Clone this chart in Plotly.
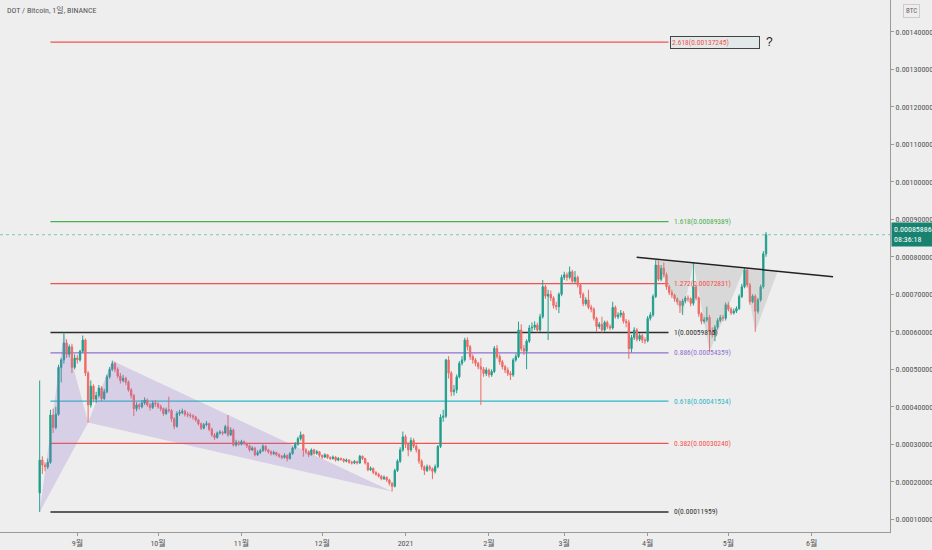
import pandas as pd
import plotly.graph_objects as go

UNIT = 1e-6  # prices below are in millionths of a BTC
START_DATE = "2020-08-18"
FIRST_OPEN = 170

CLOSES = [
    258,245,240,252,378,345,380,505,525,570,
    540,560,505,530,525,548,578,490,405,455,
    420,430,450,422,440,480,500,515,500,482,
    470,476,466,445,430,395,405,400,410,418,
    405,398,410,408,400,395,382,392,390,368,
    348,382,385,388,380,378,376,373,365,355,
    343,352,355,340,325,318,330,332,330,347,
    325,338,298,305,300,307,302,296,285,290,
    272,278,283,295,285,280,275,278,272,268,
    265,270,262,275,290,300,315,325,285,280,
    272,285,276,280,270,266,272,265,262,266,
    258,262,260,255,258,252,250,254,250,268,
    262,250,232,236,225,220,215,208,212,205,
    196,188,230,255,285,320,300,285,310,295,
    285,255,240,230,240,235,228,240,294,372,
    375,525,490,440,445,480,516,525,578,560,
    534,525,516,507,500,489,498,485,494,556,
    534,520,507,498,489,485,525,534,605,555,
    548,575,610,612,618,605,640,720,695,700,
    690,670,667,700,745,752,745,760,735,745,
    725,700,675,685,665,660,636,614,620,605,
    625,614,610,665,640,645,650,628,625,555,
    585,605,580,590,578,576,636,645,694,778,
    740,770,752,720,705,698,688,680,670,682,
    690,688,676,720,690,648,628,632,638,600,
    592,612,630,638,636,672,660,650,655,662,
    694,720,765,725,680,695,655,685,720,808,
    858.86,
]
HIGHS = [
    470,268,252,262,392,395,400,512,530,598.15,
    580,566,568,540,538,552,590,582,495,470,
    460,440,458,455,448,486,506,523,520,505,
    490,485,480,470,450,434,412,410,418,425,
    422,410,416,418,412,406,398,398,427,394,
    372,388,392,395,392,386,384,380,376,368,
    358,357,362,358,344,330,334,338,336,352,
    378,345,342,312,310,312,310,305,299,295,
    293,284,288,300,298,288,284,283,280,276,
    272,276,273,279,294,306,320,334,328,290,
    284,289,288,285,282,273,276,274,268,270,
    268,266,265,263,262,260,256,258,256,272,
    270,264,252,241,238,228,224,218,217,214,
    208,199,235,260,292,334,326,305,318,316,
    300,288,260,244,246,245,238,246,298,380,
    392,528,535,495,458,486,522,535,584,585,
    565,540,530,520,530,506,505,502,500,562,
    565,540,525,512,505,495,530,542,627,620,
    565,580,618,625,628,624,648,738,725,712,
    710,695,680,705,752,760,758,774,765,762,
    750,730,705,692,712,672,665,640,626,640,
    630,630,620,680,670,652,658,655,634,632,
    592,612,610,596,594,585,642,652,700,791,
    790,778,785,758,725,712,702,692,684,688,
    695,697,692,784,725,694,652,640,667,645,
    612,618,636,645,645,678,680,666,662,668,
    700,728,770,768,730,700,700,690,726,815,
    866,
]
LOWS = [
    119.59,221,228,234,248,330,340,376,465,515,
    530,532,490,500,515,520,544,482,358,398,
    412,410,425,415,418,436,475,495,492,476,
    462,465,458,440,422,375,388,392,396,405,
    400,390,394,400,395,388,376,378,384,360,
    340,344,376,380,374,372,370,366,360,350,
    338,340,348,335,320,312,315,326,324,328,
    320,322,294,294,296,297,298,290,280,282,
    268,269,274,280,280,275,270,271,268,264,
    260,262,254,259,272,286,296,310,267,274,
    266,270,272,272,265,261,263,261,258,259,
    254,255,256,251,252,248,246,247,246,248,
    258,246,228,229,220,216,211,204,205,200,
    190,174,185,226,250,280,290,268,280,290,
    278,248,232,218,226,229,207,222,236,290,
    360,370,475,428,430,436,476,510,520,550,
    525,515,508,500,405,480,482,478,480,490,
    528,512,500,490,482,471,480,520,530,548,
    538,500,570,600,605,598,600,635,688,578,
    682,662,658,650,695,738,736,740,728,730,
    718,690,668,670,660,652,630,600,608,598,
    600,608,604,606,635,634,638,622,612,528,
    545,578,574,575,570,568,572,630,640,690,
    735,735,745,712,698,690,680,672,650,645,
    676,680,668,670,684,640,620,622,626,547,
    585,575,606,625,628,630,654,645,646,650,
    658,690,716,718,672,676,600,648,680,715,
    800,
]

# Fibonacci levels
FIB_RATIOS = ["0", "0.382", "0.618", "0.886", "1", "1.272", "1.618", "2.618"]
FIB_PRICES = [0.00011959, 0.00030240, 0.00041534, 0.00054359, 0.00059815,
              0.00072831, 0.00089389, 0.00137245]
FIB_COLORS = ["#2e2e2e", "#f4524e", "#2bb7c8", "#9170d0", "#2e2e2e",
              "#f4524e", "#4caf50", "#f4524e"]
FIB_START = "2020-08-22"
FIB_END = "2021-04-08 18:00"

# harmonic XABCD pattern
XABCD_DATES = ["2020-08-18", "2020-08-27", "2020-09-05", "2020-09-14", "2020-12-27"]
XABCD_PRICES = [119.59, 598.15, 358, 523, 174]

# inverse head & shoulders zigzag
HS_DATES = ["2021-04-04", "2021-04-14", "2021-04-18", "2021-04-24",
            "2021-05-07", "2021-05-11", "2021-05-19 05:00"]
HS_PRICES = [791, 645, 784, 547, 770, 600, 759]

# neckline
NECK_DATES = ["2021-03-27 22:00", "2021-06-08 22:00"]
NECK_PRICES = [798.7, 747]

MONTH_TICKS = ["2020-09-01", "2020-10-01", "2020-11-01", "2020-12-01", "2021-01-01",
               "2021-02-01", "2021-03-01", "2021-04-01", "2021-05-01", "2021-06-01"]
MONTH_LABELS = ["9월", "10월", "11월", "12월", "2021", "2월", "3월", "4월", "5월", "6월"]
PRICE_TICKS = [0.0001 * k for k in range(1, 15)]

TITLE = "DOT / Bitcoin, 1일, BINANCE"
TIMER = "08:36:18"

FONT = "Liberation Sans Narrow, Roboto Condensed, DejaVu Sans Condensed, Liberation Sans, Noto Sans CJK KR"
BG = "#eeeeee"

dates = pd.date_range(START_DATE, periods=len(CLOSES), freq="D")
opens = [FIRST_OPEN] + CLOSES[:-1]
o = [v * UNIT for v in opens]
h = [v * UNIT for v in HIGHS]
l = [v * UNIT for v in LOWS]
c = [v * UNIT for v in CLOSES]

fig = go.Figure()

# XAB triangle and BCD triangle
xd, xp = XABCD_DATES, [v * UNIT for v in XABCD_PRICES]
fig.add_trace(go.Scatter(x=[xd[0], xd[1], xd[2], xd[0]], y=[xp[0], xp[1], xp[2], xp[0]],
                         fill="toself", fillcolor="rgba(149,117,205,0.25)",
                         line=dict(width=0), mode="lines", hoverinfo="skip"))
fig.add_trace(go.Scatter(x=[xd[2], xd[3], xd[4], xd[2]], y=[xp[2], xp[3], xp[4], xp[2]],
                         fill="toself", fillcolor="rgba(149,117,205,0.25)",
                         line=dict(width=0), mode="lines", hoverinfo="skip"))
# head & shoulders shading
hp = [v * UNIT for v in HS_PRICES]
fig.add_trace(go.Scatter(x=HS_DATES + [HS_DATES[0]], y=hp + [hp[0]],
                         fill="toself", fillcolor="rgba(160,160,160,0.28)",
                         line=dict(width=0), mode="lines", hoverinfo="skip"))

fig.add_trace(go.Candlestick(
    x=dates, open=o, high=h, low=l, close=c,
    increasing=dict(line=dict(color="#22a08f", width=1), fillcolor="#1f9484"),
    decreasing=dict(line=dict(color="#ef6a66", width=1), fillcolor="#ef6a66"),
    whiskerwidth=0, hoverinfo="skip",
))

# neckline
fig.add_trace(go.Scatter(x=NECK_DATES, y=[v * UNIT for v in NECK_PRICES], mode="lines",
                         line=dict(color="#222222", width=1.5), hoverinfo="skip"))

shapes = []
annotations = []
for ratio, price, col in zip(FIB_RATIOS, FIB_PRICES, FIB_COLORS):
    wide = ratio in ("0", "1")
    shapes.append(dict(type="line", xref="x", yref="y", x0=FIB_START, x1=FIB_END,
                       y0=price, y1=price, layer="below",
                       line=dict(color=col, width=1.5 if wide else 1.2)))
    txt = f"{ratio}({price:.8f})"
    if ratio == "2.618":
        annotations.append(dict(x=FIB_END, y=price, xref="x", yref="y", text=txt,
                                showarrow=False, xanchor="left", yanchor="middle", xshift=1,
                                align="left", width=86, height=9,
                                font=dict(family=FONT, size=7.5, color=col),
                                bgcolor="#e3e9e8", bordercolor="#444444", borderwidth=1,
                                borderpad=1))
        annotations.append(dict(x=FIB_END, y=price, xref="x", yref="y", text="?",
                                showarrow=False, xanchor="left", yanchor="middle", xshift=95,
                                font=dict(family="Liberation Sans", size=12, color="#222222")))
    else:
        annotations.append(dict(x=FIB_END, y=price, xref="x", yref="y", text=txt,
                                showarrow=False, xanchor="left", yanchor="middle", xshift=3,
                                font=dict(family=FONT, size=7.5, color=col)))

# last price dotted line and label
last = c[-1]
shapes.append(dict(type="line", xref="paper", yref="y", x0=0, x1=1, y0=last, y1=last,
                   layer="below", line=dict(color="rgba(38,166,154,0.55)", width=1, dash="dot")))
annotations.append(dict(x=1, y=last, xref="paper", yref="y",
                        text=f"{last:.8f}<br>{TIMER}", showarrow=False,
                        xanchor="left", yanchor="middle", xshift=1, align="left",
                        font=dict(family=FONT, size=8, color="white"),
                        bgcolor="#17826f", borderpad=2))
annotations.append(dict(x=0.006, y=0.992, xref="paper", yref="paper", text=TITLE,
                        showarrow=False, xanchor="left", yanchor="top",
                        font=dict(family=FONT, size=8, color="#555555")))
annotations.append(dict(x=1.0236, y=0.992, xref="paper", yref="paper", text="BTC",
                        showarrow=False, xanchor="center", yanchor="top",
                        font=dict(family=FONT, size=7, color="#666666"),
                        bordercolor="#cccccc", borderwidth=1, borderpad=2, bgcolor=BG))

fig.update_layout(
    width=932, height=550,
    margin=dict(l=0, r=42, t=0, b=18),
    paper_bgcolor=BG, plot_bgcolor=BG,
    showlegend=False,
    shapes=shapes, annotations=annotations,
    xaxis=dict(range=["2020-08-03 06:00", "2021-06-30 02:00"],
               tickvals=MONTH_TICKS, ticktext=MONTH_LABELS,
               showgrid=False, zeroline=False, showline=True, linecolor="#9a9a9a",
               linewidth=1, ticks="outside", ticklen=3, tickcolor="#9a9a9a",
               tickfont=dict(family=FONT, size=8, color="#555555"),
               rangeslider=dict(visible=False), fixedrange=True),
    yaxis=dict(range=[0.0000661, 0.0014848], side="right",
               tickvals=PRICE_TICKS, tickformat=".8f",
               showgrid=False, zeroline=False, showline=True, linecolor="#9a9a9a",
               linewidth=1, ticks="outside", ticklen=3, tickcolor="#9a9a9a",
               tickfont=dict(family=FONT, size=8, color="#555555"), fixedrange=True),
)

fig.write_html("out.html", config={"displayModeBar": False},
               post_script="document.body.style.margin='0';document.body.style.background='#eeeeee';")
